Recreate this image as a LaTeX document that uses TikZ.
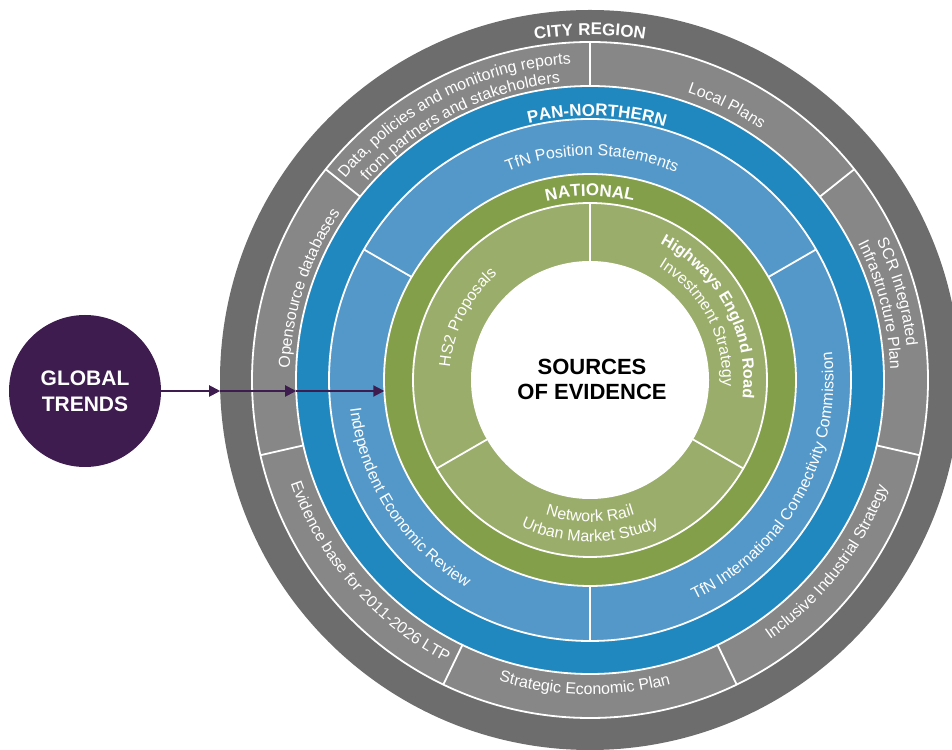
\documentclass[tikz,border=0pt]{standalone}
\usepackage{fontspec}
\setmainfont{Liberation Sans}
\usetikzlibrary{arrows.meta,decorations.text}

\definecolor{ringDark}{HTML}{6C6D6C}
\definecolor{segGrey}{HTML}{878787}
\definecolor{panBlue}{HTML}{2188BF}
\definecolor{panLight}{HTML}{5398C9}
\definecolor{natGreen}{HTML}{849F4A}
\definecolor{natLight}{HTML}{9AAD6A}
\definecolor{trendPurple}{HTML}{3F1C4F}

% text formats used along the arcs
\newcommand\bodytxt{\color{white}\fontsize{16}{19}\selectfont}
\newcommand\boldtxt{\color{white}\fontsize{16}{19}\selectfont\bfseries}
\newcommand\headtxt{\color{white}\fontsize{17}{20}\selectfont\bfseries}

% text running clockwise (upper half): radius, centre angle, half span, text
\newcommand\arcCW[4]{%
  \path[decorate,decoration={text along path,text align=center,text={#4}}]
    ([shift={(#2+#3:#1)}]C) arc[start angle=#2+#3,end angle=#2-#3,radius=#1];}
% text running anticlockwise (lower half)
\newcommand\arcCCW[4]{%
  \path[decorate,decoration={text along path,text align=center,text={#4}}]
    ([shift={(#2-#3:#1)}]C) arc[start angle=#2-#3,end angle=#2+#3,radius=#1];}

\tikzset{
  sep/.style={draw=white,line width=1.8pt},
  flow/.style={draw=trendPurple,line width=2pt,-{Triangle[length=11pt,width=11pt]}},
}

\begin{document}
\begin{tikzpicture}[x=1pt,y=1pt]
\useasboundingbox (0,0) rectangle (952,749);
\coordinate (C) at (590,369);

% concentric rings
\fill[ringDark] (C) circle[radius=370];
\fill[segGrey]  (C) circle[radius=338];
\fill[panBlue]  (C) circle[radius=294];
\fill[panLight] (C) circle[radius=261];
\fill[natGreen] (C) circle[radius=206];
\fill[natLight] (C) circle[radius=177];
\fill[white]    (C) circle[radius=119];
\foreach \r in {338,294,261,206,177}
  \draw[sep] (C) circle[radius=\r];

% segment dividers
\foreach \k in {0,...,6}
  \draw[sep] ([shift={(90-\k*51.4286:294)}]C) -- ([shift={(90-\k*51.4286:338)}]C);
\foreach \a in {30,150,270}
  \draw[sep] ([shift={(\a:206)}]C) -- ([shift={(\a:261)}]C);
\foreach \a in {90,-30,210}
  \draw[sep] ([shift={(\a:119)}]C) -- ([shift={(\a:177)}]C);

% ring headings
\arcCW{345}{90}{40}{|\headtxt|CITY REGION}
\arcCW{264}{88.5}{45}{|\headtxt|PAN-NORTHERN}
\arcCW{184}{90}{45}{|\headtxt|NATIONAL}

% city region segments
\arcCW{303.5}{63.5}{25}{|\bodytxt|Local Plans}
\arcCW{318.5}{16}{25}{|\bodytxt|SCR Integrated}
\arcCW{300.5}{14.5}{25}{|\bodytxt|Infrastructure Plan}
\arcCCW{316}{-37.5}{25}{|\bodytxt|Inclusive Industrial Strategy}
\arcCCW{314.5}{-91}{25}{|\bodytxt|Strategic Economic Plan}
\arcCCW{316.5}{-139}{30}{|\bodytxt|Evidence base for 2011-2026 LTP}
\arcCW{300.5}{162}{25}{|\bodytxt|Opensource databases}
\arcCW{317}{117}{30}{|\bodytxt|Data, policies and monitoring reports}
\arcCW{298.5}{117}{30}{|\bodytxt|from partners and stakeholders}

% pan-northern segments
\arcCW{224.5}{89.5}{40}{|\bodytxt|TfN Position Statements}
\arcCCW{241.5}{213}{45}{|\bodytxt|Independent Economic Review}
\arcCCW{243.5}{-29}{50}{|\bodytxt|TfN International Connectivity Commission}

% national segments
\arcCW{140.5}{153}{50}{|\bodytxt|HS2 Proposals}
\arcCW{153.5}{28}{50}{|\boldtxt|Highways England Road}
\arcCW{132.5}{28}{50}{|\bodytxt|Investment Strategy}
\arcCCW{142}{-90}{45}{|\bodytxt|Network Rail}
\arcCCW{162}{-90}{45}{|\bodytxt|Urban Market Study}

% centre
\node[align=center,font=\bfseries\fontsize{22}{25}\selectfont] (core) at (592,370) {SOURCES\\OF EVIDENCE};

% global trends and its path into the rings
\node[circle,fill=trendPurple,minimum size=152pt,inner sep=0pt,text=white,
      align=center,font=\bfseries\fontsize{21}{26}\selectfont] (gt) at (85,358) {GLOBAL\\TRENDS};
\coordinate (hitCity) at (220.2,358);
\coordinate (hitPan) at (296.2,358);
\coordinate (hitNat) at (384.3,358);
\draw[flow] (gt.east) -- (hitCity);
\draw[flow] (hitCity) -- (hitPan);
\draw[flow] (hitPan) -- (hitNat);
\end{tikzpicture}
\end{document}
